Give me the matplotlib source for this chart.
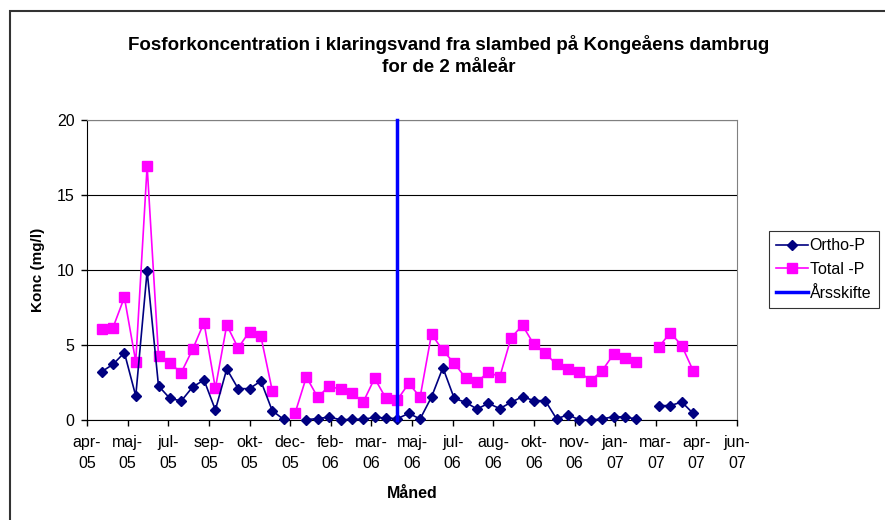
import datetime as dt
import numpy as np
import matplotlib
matplotlib.use("Agg")
import matplotlib.pyplot as plt
from matplotlib.patches import Rectangle

plt.rcParams["font.family"] = ["Liberation Sans", "DejaVu Sans"]

# sampling dates (every other week)
dates = [
    "2005-04-26", "2005-05-10", "2005-05-24", "2005-06-07", "2005-06-21",
    "2005-07-05", "2005-07-19", "2005-08-02", "2005-08-16", "2005-08-30",
    "2005-09-13", "2005-09-27", "2005-10-11", "2005-10-25", "2005-11-08",
    "2005-11-22", "2005-12-06", "2005-12-20", "2006-01-03", "2006-01-17",
    "2006-01-31", "2006-02-14", "2006-02-28", "2006-03-14", "2006-03-28",
    "2006-04-11", "2006-04-25", "2006-05-09", "2006-05-23", "2006-06-06",
    "2006-06-20", "2006-07-04", "2006-07-18", "2006-08-01", "2006-08-15",
    "2006-08-29", "2006-09-12", "2006-09-26", "2006-10-10", "2006-10-24",
    "2006-11-07", "2006-11-21", "2006-12-05", "2006-12-19", "2007-01-02",
    "2007-01-16", "2007-01-30", "2007-02-13", "2007-02-27", "2007-03-13",
    "2007-03-27", "2007-04-10", "2007-04-24",
]
nan = np.nan
ortho_p = [
    3.22, 3.71, 4.49, 1.60, 9.93, 2.27, 1.44, 1.27, 2.20, 2.67,
    0.67, 3.40, 2.09, 2.09, 2.60, 0.62, 0.04, nan, 0.03, 0.09,
    0.20, 0.02, 0.04, 0.04, 0.18, 0.13, 0.09, 0.44, 0.07, 1.53,
    3.49, 1.44, 1.18, 0.73, 1.11, 0.76, 1.18, 1.56, 1.29, 1.29,
    0.07, 0.36, 0.00, 0.00, 0.07, 0.22, 0.20, 0.07, nan, 0.96,
    0.96, 1.20, 0.44,
]
total_p = [
    6.07, 6.16, 8.18, 3.89, 16.93, 4.29, 3.78, 3.16, 4.71, 6.49,
    2.11, 6.33, 4.80, 5.90, 5.58, 1.96, nan, 0.44, 2.87, 1.51,
    2.27, 2.04, 1.78, 1.20, 2.78, 1.44, 1.35, 2.44, 1.53, 5.73,
    4.64, 3.78, 2.80, 2.53, 3.20, 2.87, 5.49, 6.31, 5.04, 4.44,
    3.71, 3.38, 3.20, 2.62, 3.29, 4.38, 4.13, 3.89, nan, 4.89,
    5.82, 4.96, 3.29,
]
aarsskifte_x = ["2006-04-25", "2006-04-25"]
aarsskifte_y = [0, 20]

x_labels = ["apr-\n05", "maj-\n05", "jul-\n05", "sep-\n05", "okt-\n05", "dec-\n05",
            "feb-\n06", "mar-\n06", "maj-\n06", "jul-\n06", "aug-\n06", "okt-\n06",
            "nov-\n06", "jan-\n07", "mar-\n07", "apr-\n07", "jun-\n07"]
y_ticks = [0, 5, 10, 15, 20]

x_start = dt.datetime(2005, 4, 8)
x_step = 50  # days between axis labels

to_dt = lambda s: dt.datetime.strptime(s, "%Y-%m-%d")
xd = [to_dt(s) for s in dates]

W, H = 885, 520
fig = plt.figure(figsize=(W / 100, H / 100), dpi=100)

# chart area border
fig.patches.append(Rectangle((10 / W, -0.1), 1.2, 1 - 11 / H + 0.1, transform=fig.transFigure,
                             fill=False, edgecolor="#333333", linewidth=1.5))
fig.text(8 / W, 1 + 3 / H, "Fig", fontsize=11, fontweight="bold", va="baseline")

ax = fig.add_axes([87 / W, 1 - 420 / H, (737 - 87) / W, 300 / H])

ax.plot(xd, ortho_p, color="#000080", marker="D", markersize=5.5, linewidth=1.2,
        label="Ortho-P", clip_on=False, zorder=4)
ax.plot(xd, total_p, color="#FF00FF", marker="s", markersize=6.5, linewidth=1.2,
        label="Total -P", clip_on=False, zorder=3)
ax.plot([to_dt(s) for s in aarsskifte_x], aarsskifte_y, color="#0000FF", linewidth=2.5,
        solid_capstyle="projecting", label="Årsskifte", clip_on=False, zorder=5)

ticks = [x_start + dt.timedelta(days=x_step * i) for i in range(len(x_labels))]
ax.set_xlim(ticks[0], ticks[-1])
ax.set_xticks(ticks)
ax.set_xticklabels(x_labels, fontsize=11.5, linespacing=1.5)
ax.set_ylim(0, 20)
ax.set_yticks(y_ticks)
ax.set_yticklabels([str(v) for v in y_ticks], fontsize=11.5)
ax.tick_params(direction="out", length=4, width=1)
ax.tick_params(axis="x", pad=6.5)
ax.tick_params(axis="y", pad=5)

ax.grid(axis="y", color="black", linewidth=0.8)
ax.set_axisbelow(True)
for side in ("top", "right"):
    ax.spines[side].set_color("#808080")
for side in ("left", "bottom"):
    ax.spines[side].set_color("black")

fig.text(449 / W, 1 - 44 / H,
         "Fosforkoncentration i klaringsvand fra slambed på Kongeåens dambrug",
         ha="center", va="center", fontsize=13.5, fontweight="bold")
fig.text(449 / W, 1 - 67 / H, "for de 2 måleår",
         ha="center", va="center", fontsize=13.5, fontweight="bold")
fig.text(38 / W, 1 - 270 / H, "Konc (mg/l)", rotation=90, ha="center", va="center",
         fontsize=11, fontweight="bold")
fig.text(412 / W, 1 - 494 / H, "Måned", ha="center", va="center", fontsize=11.5,
         fontweight="bold")

leg = ax.legend(loc="upper left", bbox_to_anchor=(769 / W, 1 - 231 / H),
                bbox_transform=fig.transFigure, borderaxespad=0, fontsize=11.5,
                frameon=True, fancybox=False, edgecolor="black", handlelength=2.0,
                handletextpad=0.1, labelspacing=0.55, borderpad=0.45)
leg.get_frame().set_linewidth(0.8)

fig.savefig("out.png", dpi=100)
